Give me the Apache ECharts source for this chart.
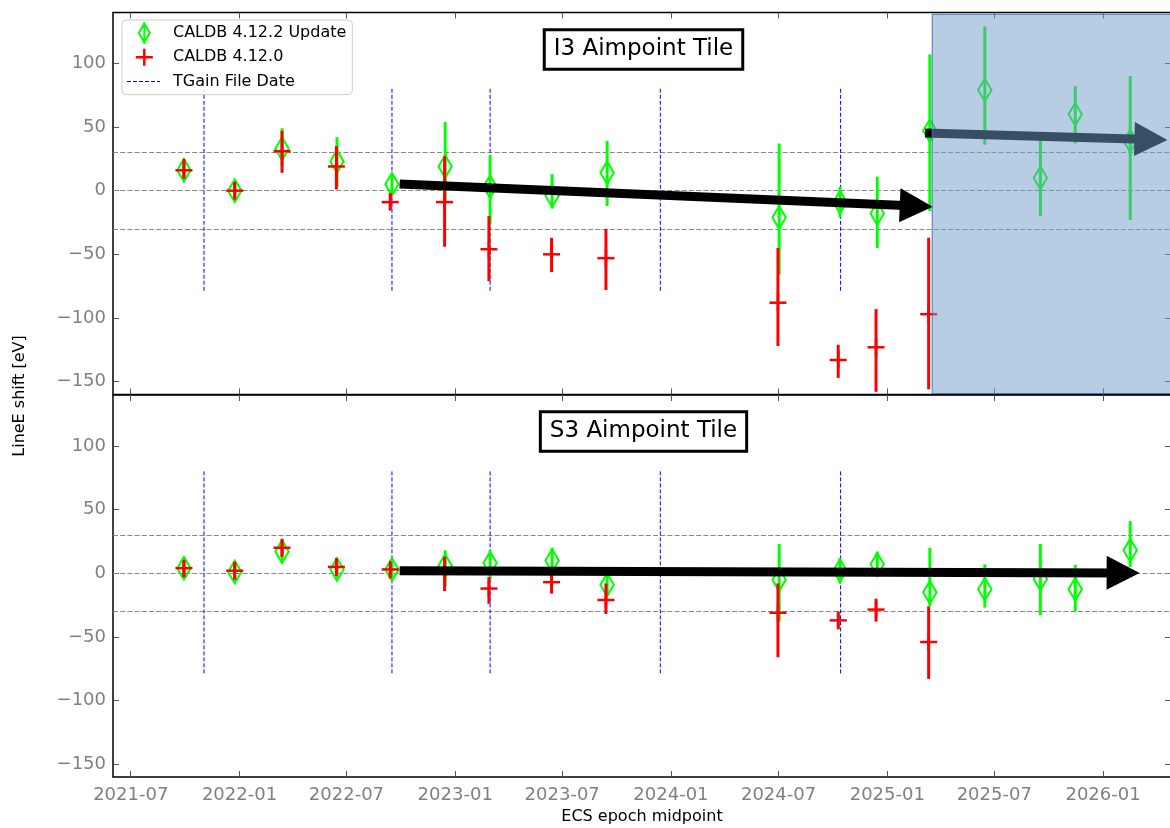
<!DOCTYPE html>
<html>
<head>
<meta charset="utf-8">
<title>LineE shift - I3 / S3 aimpoint tiles</title>
<script src="https://cdn.jsdelivr.net/npm/echarts@6/dist/echarts.min.js"></script>
<style>
  html, body { margin: 0; padding: 0; background: #fff; }
  #chart { width: 1170px; height: 828px; }
</style>
</head>
<body>
<div id="chart"></div>
<script>
// ---- values ----
const newLabel = 'CALDB 4.12.2 Update';
const oldLabel = 'CALDB 4.12.0';
const tgainLabel = 'TGain File Date';

// ECS epoch midpoints
const newDates = ['2021-09-29','2021-12-24','2022-03-14','2022-06-15','2022-09-16','2022-12-15','2023-03-01',
  '2023-06-14','2023-09-15','2024-07-02','2024-10-13','2024-12-15','2025-03-14','2025-06-15','2025-09-17',
  '2025-11-15','2026-02-16'];
const oldDates = ['2021-09-29','2021-12-24','2022-03-14','2022-06-14','2022-09-13','2022-12-14','2023-02-27',
  '2023-06-13','2023-09-13','2024-06-30','2024-10-10','2024-12-13','2025-03-12'];

// I3 aimpoint tile
const i3NewVal = [16, 0, 33, 23, 5, 19, 3, -4, 14, -21, -9, -18, 47, 79, 10, 60, 39];
const i3NewLo  = [9, -7, 19, 3, -2, -10, -26, -14, -12, -66, -21, -45, -16, 36, -20, 37, -23];
const i3NewHi  = [22, 7, 49, 42, 12, 54, 28, 13, 39, 37, 3, 11, 107, 129, 39, 82, 90];
const i3OldVal = [16, 0, 31, 19, -9, -9, -46, -50, -53, -88, -133, -123, -97];
const i3OldLo  = [10, -7, 14, 1, -15, -44, -71, -64, -78, -122, -147, -158, -156];
const i3OldHi  = [25, 7, 47, 35, -2, 27, -20, -37, -30, -45, -121, -93, -37];

// S3 aimpoint tile
const s3NewVal = [4, 1, 17, 3, 3, 6, 8, 10, -9, -5, 2, 7, -15, -12.5, -4.5, -12.5, 18];
const s3NewLo  = [-3, -6, 10, -4, -4, -10, -5, 5, -18, -38, -8, -3, -26, -27, -33, -30, 5];
const s3NewHi  = [11, 8, 24, 10, 10, 18, 18, 20, 0, 23, 12, 17, 20, 7, 23, 6.5, 41];
const s3OldVal = [4, 2, 20, 5, 3, 1, -12, -7, -21, -31, -37, -28.5, -54];
const s3OldLo  = [-3, -5, 13, -2, -4, -14, -24, -16, -32, -66, -44, -38, -83];
const s3OldHi  = [10, 9, 27, 12, 8, 13, -3, -1, -8, -8, -30, -20, -26];

const tgainDates = ['2021-11-02', '2022-09-16', '2023-03-01', '2023-12-14', '2024-10-14'];
const tgainSpan = [-80, 80];
const refLevels = [30, 0, -30];

const xTicks = ['2021-07-01','2022-01-01','2022-07-01','2023-01-01','2023-07-01','2024-01-01',
  '2024-07-01','2025-01-01','2025-07-01','2026-01-01'];
const yTicks = [-150, -100, -50, 0, 50, 100];
const xRange = ['2021-06-01', '2026-04-26'];
const yRange = [-160, 140];

// annotations: trend arrows (tail, head centre) and the shaded projection block
const i3Trend    = [['2022-09-29', 5.2], ['2025-02-19', -12]];
const i3Forecast = [['2025-03-06', 45.3], ['2026-03-23', 40.2]];
const s3Trend    = [['2022-09-29', 2.0], ['2026-02-04', 0.3]];
const projBlock  = [['2025-03-18', 138.5], [xRange[1], -159.3]];

// ---- helpers ----
const ts = d => Date.parse(d);
const rows = (dates, v, lo, hi) => dates.map((d, i) => [ts(d), v[i], lo[i], hi[i]]);
const FONT = 'DejaVu Sans';
const GREEN = '#00ff00', RED = '#ff0000', BLUE = '#0000ff';

function errorBarItem(marker) {
  return function (params, api) {
    const t = api.value(0);
    const c = api.coord([t, api.value(1)]);
    const lo = api.coord([t, api.value(2)]);
    const hi = api.coord([t, api.value(3)]);
    const color = api.visual('color');
    const kids = [{ type: 'line', shape: { x1: c[0], y1: hi[1], x2: c[0], y2: lo[1] },
      style: { stroke: color, lineWidth: 3 } }];
    if (marker === 'diamond') {
      kids.push({ type: 'polygon',
        shape: { points: [[c[0], c[1] - 11.3], [c[0] + 6.7, c[1]], [c[0], c[1] + 11.3], [c[0] - 6.7, c[1]]] },
        style: { fill: 'none', stroke: color, lineWidth: 2 } });
    } else {
      kids.push({ type: 'line', shape: { x1: c[0] - 8.5, y1: c[1], x2: c[0] + 8.5, y2: c[1] },
        style: { stroke: color, lineWidth: 2.5 } });
      kids.push({ type: 'line', shape: { x1: c[0], y1: c[1] - 8.5, x2: c[0], y2: c[1] + 8.5 },
        style: { stroke: color, lineWidth: 2.5 } });
    }
    return { type: 'group', children: kids };
  };
}

function tgainItem(params, api) {
  const t = api.value(0);
  const a = api.coord([t, tgainSpan[1]]);
  const b = api.coord([t, tgainSpan[0]]);
  return { type: 'line', shape: { x1: a[0], y1: a[1], x2: b[0], y2: b[1] },
    style: { stroke: api.visual('color'), lineWidth: 1, lineDash: [4, 2] } };
}

function arrowLine(pair) {
  return [{ coord: [ts(pair[0][0]), pair[0][1]] }, { coord: [ts(pair[1][0]), pair[1][1]] }];
}

// legend icons, drawn in a 41x24 box (tiny corner dots pin the box)
const pin = 'M0,0h0.01v0.01h-0.01Z M40.99,23.99h0.01v0.01h-0.01Z ';
const iconNew = 'path://' + pin +
  'M17.3,0.7L24,12L17.3,23.3L10.6,12Z M17.3,4.6L12.9,12L17.3,19.4L21.7,12Z M16.3,1h2v22h-2Z';
const iconOld = 'path://' + pin + 'M8.8,10.75h17v2.5h-17Z M16.05,3.5h2.5v17h-2.5Z';
const iconTg = 'path://' + pin + 'M0,11.5h4v1h-4Z M6,11.5h4v1h-4Z M12,11.5h4v1h-4Z M18,11.5h4v1h-4Z M24,11.5h4v1h-4Z M30,11.5h3v1h-3Z';

// ---- axes (x is a plain value axis holding timestamps) ----
const grids = [
  { left: 113, right: -1, top: 12.4, height: 382 },
  { left: 113, right: -1, top: 395, height: 382 }
].map(g => Object.assign(g, { show: true, borderColor: '#000', borderWidth: 1.5, outerBoundsMode: 'none' }));

const tickStyle = { show: true, inside: true, length: 6, lineStyle: { color: '#555', width: 1 } };

function monthLabel(v) {
  const d = new Date(v);
  return d.getUTCFullYear() + '-' + String(d.getUTCMonth() + 1).padStart(2, '0');
}

function xAxisCfg(gridIndex, position, withLabels) {
  return {
    type: 'value', gridIndex, position, min: ts(xRange[0]), max: ts(xRange[1]), scale: true,
    axisLine: { show: false, onZero: false }, splitLine: { show: false },
    axisTick: Object.assign({ customValues: xTicks.map(ts) }, tickStyle),
    axisLabel: withLabels ? {
      show: true, customValues: xTicks.map(ts), margin: 9, color: '#808080', fontSize: 18, fontFamily: FONT,
      formatter: monthLabel
    } : { show: false },
    name: withLabels ? 'ECS epoch midpoint' : '', nameLocation: 'middle', nameGap: 32,
    nameTextStyle: { color: '#000', fontSize: 16, fontFamily: FONT }
  };
}
function yAxisCfg(gridIndex, position, withLabels) {
  return {
    type: 'value', gridIndex, position, min: yRange[0], max: yRange[1],
    axisLine: { show: false, onZero: false }, splitLine: { show: false },
    axisTick: Object.assign({ customValues: yTicks }, tickStyle),
    axisLabel: withLabels ? { show: true, customValues: yTicks, margin: 7, color: '#808080', fontSize: 18,
      fontFamily: FONT, formatter: v => (v < 0 ? '\u2212' + (-v) : String(v)) } : { show: false }
  };
}

// ---- series ----
function panelSeries(xi, yi, newRows, oldRows, trends) {
  return [
    { name: tgainLabel, type: 'custom', xAxisIndex: xi, yAxisIndex: yi, z: 2,
      itemStyle: { color: BLUE }, data: tgainDates.map(d => [ts(d), 0]), renderItem: tgainItem },
    { name: newLabel, type: 'custom', xAxisIndex: xi, yAxisIndex: yi, z: 3,
      itemStyle: { color: GREEN }, data: newRows, renderItem: errorBarItem('diamond') },
    { name: oldLabel, type: 'custom', xAxisIndex: xi, yAxisIndex: yi, z: 4,
      itemStyle: { color: RED }, data: oldRows, renderItem: errorBarItem('plus') },
    { type: 'line', xAxisIndex: xi, yAxisIndex: yi, data: [], silent: true,
      markLine: { z: 1, silent: true, symbol: ['none', 'none'], label: { show: false }, animation: false,
        lineStyle: { color: '#888', type: [5, 2.2], width: 1 },
        data: refLevels.map(v => ({ yAxis: v })) } },
    { type: 'line', xAxisIndex: xi, yAxisIndex: yi, data: [], silent: true,
      markLine: { z: 6, silent: true, symbol: ['none', 'triangle'], symbolSize: [34, 33],
        label: { show: false }, animation: false,
        lineStyle: { color: '#000', type: 'solid', width: 9 }, itemStyle: { color: '#000' },
        data: trends.map(arrowLine) } }
  ];
}

const series = [].concat(
  panelSeries(0, 0, rows(newDates, i3NewVal, i3NewLo, i3NewHi), rows(oldDates, i3OldVal, i3OldLo, i3OldHi),
    [i3Trend, i3Forecast]),
  panelSeries(2, 2, rows(newDates, s3NewVal, s3NewLo, s3NewHi), rows(oldDates, s3OldVal, s3OldLo, s3OldHi),
    [s3Trend]),
  [{ type: 'line', xAxisIndex: 0, yAxisIndex: 0, data: [], silent: true,
     markArea: { z: 10, silent: true, label: { show: false },
       itemStyle: { color: 'rgba(112,156,202,0.5)', borderColor: '#4a72c0', borderWidth: 1 },
       data: [[{ coord: [ts(projBlock[0][0]), projBlock[0][1]] }, { coord: [ts(projBlock[1][0]), projBlock[1][1]] }]] } }]
);

const legendItem = (name, icon, color) => ({ name, icon, itemStyle: { color, borderWidth: 0, opacity: 1 } });

const chart = echarts.init(document.getElementById('chart'), null, { renderer: 'canvas' });
chart.setOption({
  animation: false,
  backgroundColor: '#fff',
  textStyle: { fontFamily: FONT },
  grid: grids,
  xAxis: [xAxisCfg(0, 'bottom', false), xAxisCfg(0, 'top', false), xAxisCfg(1, 'bottom', true), xAxisCfg(1, 'top', false)],
  yAxis: [yAxisCfg(0, 'left', true), yAxisCfg(0, 'right', false), yAxisCfg(1, 'left', true), yAxisCfg(1, 'right', false)],
  legend: {
    orient: 'vertical', left: 122, top: 20, padding: [1, 6, 1, 5], itemGap: 0.3,
    itemWidth: 41, itemHeight: 24, selectedMode: false, z: 20,
    borderColor: '#cccccc', borderWidth: 1, borderRadius: 4, backgroundColor: 'rgba(255,255,255,0.85)',
    textStyle: { fontSize: 16, color: '#000', fontFamily: FONT },
    data: [legendItem(newLabel, iconNew, GREEN), legendItem(oldLabel, iconOld, RED), legendItem(tgainLabel, iconTg, BLUE)]
  },
  graphic: [
    { type: 'text', x: 643.5, y: 49.5, z: 30,
      style: { text: 'I3 Aimpoint Tile', font: '23px "DejaVu Sans"', fill: '#000', align: 'center', verticalAlign: 'middle',
        backgroundColor: '#fff', borderColor: '#000', borderWidth: 3, padding: [7, 8, 6.5, 8] } },
    { type: 'text', x: 643.5, y: 431.5, z: 30,
      style: { text: 'S3 Aimpoint Tile', font: '23px "DejaVu Sans"', fill: '#000', align: 'center', verticalAlign: 'middle',
        backgroundColor: '#fff', borderColor: '#000', borderWidth: 3, padding: [7, 8, 6.5, 8] } },
    { type: 'text', x: 20, y: 396, rotation: Math.PI / 2,
      style: { text: 'LineE shift [eV]', font: '16px "DejaVu Sans"', fill: '#000', align: 'center', verticalAlign: 'middle' } }
  ],
  series: series
});
</script>
</body>
</html>
